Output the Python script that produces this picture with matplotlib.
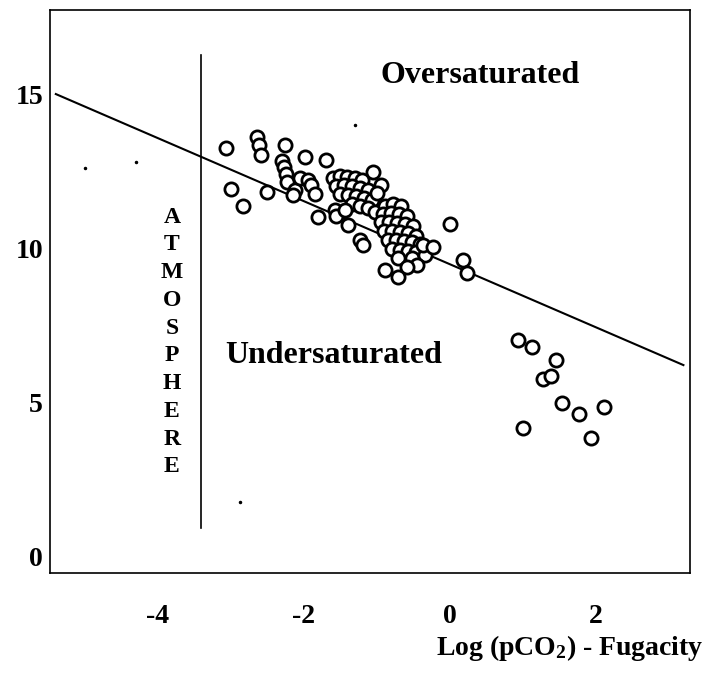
import matplotlib
matplotlib.use("Agg")
import matplotlib.pyplot as plt
import numpy as np

plt.rcParams['font.family'] = ['Liberation Serif', 'DejaVu Serif']
plt.rcParams['font.weight'] = 'bold'
plt.rcParams['mathtext.fontset'] = 'custom'
plt.rcParams['mathtext.rm'] = 'Liberation Serif:bold'
plt.rcParams['mathtext.it'] = 'Liberation Serif:bold'
plt.rcParams['mathtext.default'] = 'rm'

# ---- data (log pCO2 fugacity vs. saturation index) ----
obs_x = [-3.07, -2.64, -2.61, -2.59, -3.00, -2.83, -2.50, -2.26, -2.30, -2.27,
         -2.25, -2.23, -2.12, -2.15, -2.05, -1.94, -1.91, -1.85, -1.98, -1.70,
         -1.81, -1.58, -1.56,
         -1.60, -1.51, -1.41, -1.30, -1.21, -1.56, -1.45, -1.34, -1.23, -1.12,
         -1.51, -1.40, -1.29, -1.18, -1.07, -1.34, -1.23, -1.12, -1.44, -1.03,
         -1.05, -0.94, -1.39, -1.23, -1.19, -1.00,
         -0.89, -0.78, -0.67, -0.92, -0.81, -0.70, -0.59, -0.95, -0.84, -0.73,
         -0.62, -0.51, -0.90, -0.79, -0.68, -0.58, -0.47, -0.85, -0.74, -0.63,
         -0.52, -0.41, -0.79, -0.68, -0.58, -0.47, -0.71, -0.52, -0.34,
         -0.37, -0.23, -0.45, -0.59, -0.89, -0.71, 0.00, 0.18, 0.24,
         0.94, 1.13, 1.46, 1.28, 1.39, 1.53, 1.77, 2.11, 1.00, 1.94]
obs_y = [13.24, 13.59, 13.34, 13.02, 11.91, 11.36, 11.83, 13.34, 12.83, 12.64,
         12.40, 12.15, 11.88, 11.72, 12.26, 12.21, 12.05, 11.75, 12.96, 12.86,
         11.00, 11.23, 11.04,
         12.27, 12.34, 12.31, 12.27, 12.21, 12.01, 12.05, 12.01, 11.95, 11.88,
         11.75, 11.72, 11.69, 11.62, 11.56, 11.43, 11.36, 11.30, 11.23, 11.17,
         12.48, 12.05, 10.75, 10.26, 10.10, 11.78,
         11.36, 11.43, 11.36, 11.10, 11.14, 11.10, 11.04, 10.84, 10.84, 10.81,
         10.78, 10.71, 10.55, 10.55, 10.52, 10.49, 10.39, 10.26, 10.26, 10.23,
         10.19, 10.13, 9.97, 9.94, 9.90, 9.87, 9.68, 9.68, 9.77,
         10.10, 10.03, 9.45, 9.38, 9.29, 9.06, 10.78, 9.61, 9.18,
         7.01, 6.80, 6.36, 5.74, 5.84, 4.98, 4.60, 4.85, 4.15, 3.82]

# saturation line endpoints
line_x = [-5.40, 3.20]
line_y = [15.0, 6.2]

# atmospheric log pCO2 marker line
atm_x = -3.41
atm_y = [0.90, 16.27]

# small specks present in the scanned figure
speck_x = [-5.00, -4.30, -1.30, -2.88]
speck_y = [12.60, 12.80, 14.00, 1.75]

x_ticks = [-4, -2, 0, 2]
y_ticks = [0, 5, 10, 15]

fig = plt.figure(figsize=(7.06, 6.88), dpi=100)
ax = fig.add_axes([0.0708, 0.1672, 0.9065, 0.8183])

ax.plot(line_x, line_y, color='black', lw=1.5)
ax.plot([atm_x, atm_x], atm_y, color='black', lw=1.2)
ax.plot(obs_x, obs_y, linestyle='none', marker='o', ms=9.5, mfc='white',
        mec='black', mew=2.0)
ax.plot(speck_x, speck_y, linestyle='none', marker='o', ms=1.5, color='black')

ax.set_xlim(-5.48, 3.29)
ax.set_ylim(-0.55, 17.73)
ax.set_xticks(x_ticks)
ax.set_yticks(y_ticks)
ax.set_xticklabels([str(v) for v in x_ticks], fontsize=20, fontweight='bold')
ax.set_yticklabels([str(v) for v in y_ticks], fontsize=20, fontweight='bold')
ax.tick_params(axis='x', length=0, pad=22)
ax.tick_params(axis='y', length=0, pad=5)
for s in ax.spines.values():
    s.set_linewidth(1.2)

ax.text(0.42, 15.6, 'Oversaturated', fontsize=23, fontweight='bold',
        ha='center', va='center')
ax.text(-1.59, 6.5, 'Undersaturated', fontsize=23, fontweight='bold',
        ha='center', va='center')
ax.text(-3.81, 6.95, '\n'.join('ATMOSPHERE'), fontsize=17, fontweight='bold',
        ha='center', va='center', linespacing=1.42)

fig.text(0.996, 0.058, r'Log (pCO$_2$) - Fugacity', fontsize=20,
         fontweight='bold', ha='right', va='center')

fig.savefig('out.png', dpi=100)
